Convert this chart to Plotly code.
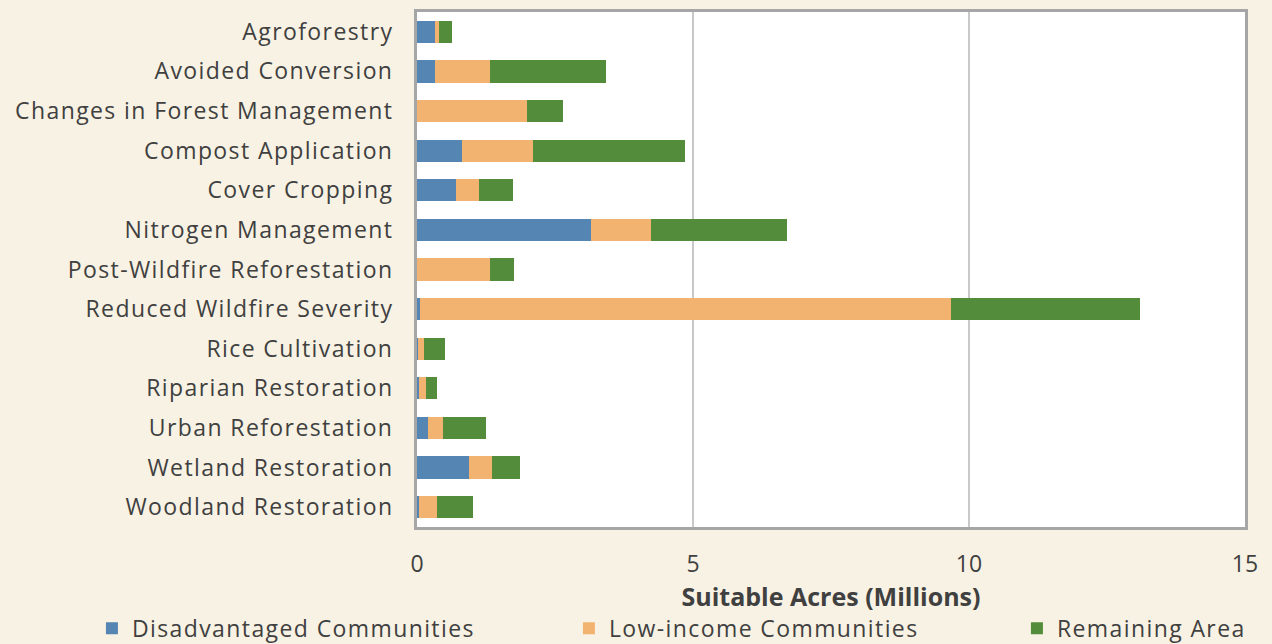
import plotly.graph_objects as go

categories = [
    "Agroforestry", "Avoided Conversion", "Changes in Forest Management",
    "Compost Application", "Cover Cropping", "Nitrogen Management",
    "Post-Wildfire Reforestation", "Reduced Wildfire Severity",
    "Rice Cultivation", "Riparian Restoration", "Urban Reforestation",
    "Wetland Restoration", "Woodland Restoration",
]
disadvantaged = [0.33, 0.33, 0.00, 0.81, 0.71, 3.15, 0.00, 0.06, 0.01, 0.03, 0.20, 0.94, 0.03]
low_income = [0.07, 0.99, 2.00, 1.29, 0.41, 1.09, 1.32, 9.61, 0.12, 0.14, 0.27, 0.42, 0.34]
remaining = [0.24, 2.10, 0.64, 2.75, 0.61, 2.47, 0.44, 3.42, 0.38, 0.20, 0.78, 0.50, 0.64]
x_ticks = [0, 5, 10, 15]

series = [
    ("Disadvantaged Communities", disadvantaged, "#5585B2", 432),
    ("Low-income Communities", low_income, "#F2B370", 403),
    ("Remaining Area", remaining, "#538C3A", 200),
]

FONT = "Open Sans"
fig = go.Figure()
for name, vals, color, lw in series:
    fig.add_trace(go.Bar(
        y=categories, x=vals, name=name, orientation="h",
        marker=dict(color=color, line=dict(width=0)),
        legendwidth=lw,
    ))

fig.update_layout(
    barmode="stack",
    bargap=0.44,
    width=1272, height=644,
    margin=dict(l=417, r=27, t=12, b=117, autoexpand=False),
    paper_bgcolor="#F8F2E4",
    plot_bgcolor="#FFFFFF",
    font=dict(family=FONT, color="#404040", size=20),
    showlegend=True,
    legend=dict(
        orientation="h", xref="paper", yref="paper",
        x=-0.3926, xanchor="left", y=-0.155, yanchor="top",
        font=dict(size=23, color="#404040", family=FONT),
        bgcolor="rgba(0,0,0,0)", traceorder="normal",
    ),
    xaxis=dict(
        range=[0, 15], tickvals=x_ticks, ticktext=[str(t) for t in x_ticks],
        showgrid=True, gridcolor="#C8C8C8", gridwidth=2,
        zeroline=False, showline=True, linecolor="#A6A6A6", linewidth=3,
        mirror=True, ticks="", tickfont=dict(size=23, color="#404040"),
        ticklabelstandoff=14,
        title=dict(text="<b>Suitable Acres (Millions)</b>",
                   font=dict(size=25, color="#404040"), standoff=4),
    ),
    yaxis=dict(
        autorange="reversed", showgrid=False, showline=True,
        linecolor="#A6A6A6", linewidth=3, mirror=True, ticks="",
        tickfont=dict(size=23, color="#404040"), ticklabelstandoff=16,
    ),
)

post = """
document.body.style.margin = '0';
document.querySelectorAll('.ytick text, .legendtext').forEach(function(t){
  t.style.letterSpacing = '1.4px';
});
"""

fig.write_html("out.html", post_script=post, config={"displayModeBar": False})
